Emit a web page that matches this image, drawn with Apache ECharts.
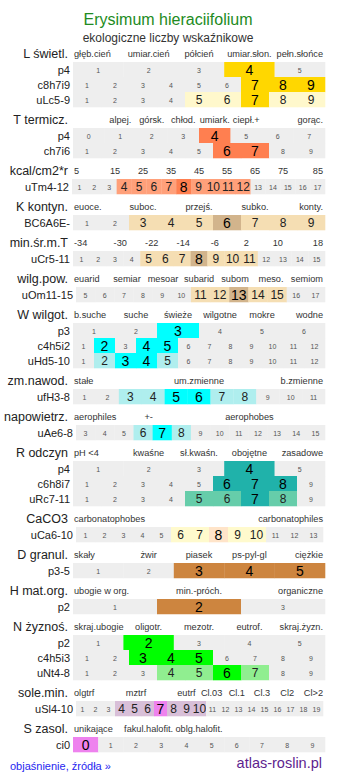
<!DOCTYPE html>
<html><head><meta charset="utf-8">
<script src="https://cdn.jsdelivr.net/npm/echarts@6/dist/echarts.min.js"></script>
<style>html,body{margin:0;padding:0;background:#fff}#c{width:337px;height:781px}</style>
</head><body><div id="c"></div><script>
// ---- texts ----
const chartTitle = 'Erysimum hieraciifolium';
const chartSubtitle = 'ekologiczne liczby wskaźnikowe';
const footerLeft = 'objaśnienie, źródła »';
const footerRight = 'atlas-roslin.pl';

const groupTitles = ['L świetl.','T termicz.','kcal/cm2*r','K kontyn.','min.śr.m.T','wilg.pow.','W wilgot.','zm.nawod.','napowietrz.','R odczyn','CaCO3','D granul.','H mat.org.','N żyznoś.','sole.min.','S zasol.'];

// ---- header tick labels ----
const hdrL = ['głęb.cień','umiar.cień','półcień','umiar.słon.','pełn.słońce'];
const hdrT = ['','alpej.','górsk.','chłod.','umiark.','ciepł.+','','gorąc.'];
const hdrKcal = ['5','15','25','35','45','55','65','75','85'];
const hdrK = ['euoce.','','suboc.','','przejś.','','subko.','','konty.'];
const hdrMinT = ['-34','-30','-22','-14','-6','2','10','18'];
const hdrWilgPow = ['euarid','semiar','mesoar','subarid','subom','meso.','semiom'];
const hdrW = ['b.suche','suche','świeże','wilgotne','mokre','wodne'];
const hdrZm = ['stałe','um.zmienne','b.zmienne'];
const hdrNapow = ['aerophiles','+-','','aerophobes',''];
const hdrR = ['pH <4','kwaśne','sł.kwaśn.','obojętne','zasadowe'];
const hdrCa = ['carbonatophobes','carbonatophiles'];
const hdrD = ['skały','żwir','piasek','ps-pyl-gl','ciężkie'];
const hdrH = ['ubogie w org.','min.-próch.','organiczne'];
const hdrN = ['skraj.ubogie','oligotr.','mezotr.','eutrof.','skraj.żyzn.'];
const hdrSole = ['olgtrf','','mztrf','','eutrf','Cl.03','Cl.1','Cl.3','Cl2','Cl>2'];
const hdrS = ['unikające','fakul.halofit.','oblg.halofit.','',''];

// ---- rows: names, cell values, levels (0 none, 1 secondary, 2 main) ----
const rowsL = ['p4','c8h7i9','uLc5-9'];
const cellsL = [[1,2,3,4,5],[1,2,3,4,5,6,7,8,9],[1,2,3,4,5,6,7,8,9]];
const levelsL = [[0,0,0,2,0],[0,0,0,0,0,0,2,2,2],[0,0,0,0,1,1,2,1,1]];

const rowsT = ['p4','ch7i6'];
const cellsT = [[0,1,2,3,4,5,6,7],[1,2,3,4,5,6,7,8,9]];
const levelsT = [[0,0,0,0,2,0,0,0],[0,0,0,0,0,2,2,0,0]];

const rowsKcal = ['uTm4-12'];
const cellsKcal = [[1,2,3,4,5,6,7,8,9,10,11,12,13,14,15,16,17]];
const levelsKcal = [[0,0,0,1,1,1,1,2,1,1,1,1,0,0,0,0,0]];

const rowsK = ['BC6A6E-'];
const cellsK = [[1,2,3,4,5,6,7,8,9]];
const levelsK = [[0,0,1,1,1,2,1,1,1]];

const rowsMinT = ['uCr5-11'];
const cellsMinT = [[1,2,3,4,5,6,7,8,9,10,11,12,13,14,15]];
const levelsMinT = [[0,0,0,0,1,1,1,2,1,1,1,0,0,0,0]];

const rowsWilgPow = ['uOm11-15'];
const cellsWilgPow = [[5,6,7,8,9,10,11,12,13,14,15,16,17]];
const levelsWilgPow = [[0,0,0,0,0,0,1,1,2,1,1,0,0]];

const rowsW = ['p3','c4h5i2','uHd5-10'];
const cellsW = [[1,2,3,4,5,6],[1,2,3,4,5,6,7,8,9,10,11,12],[1,2,3,4,5,6,7,8,9,10,11,12]];
const levelsW = [[0,0,2,0,0,0],[0,2,0,2,2,0,0,0,0,0,0,0],[0,1,2,2,1,0,0,0,0,0,0,0]];

const rowsZm = ['ufH3-8'];
const cellsZm = [[1,2,3,4,5,6,7,8,9,10,11]];
const levelsZm = [[0,0,1,1,2,2,1,1,0,0,0]];

const rowsNapow = ['uAe6-8'];
const cellsNapow = [[3,4,5,6,7,8,9,10,11,12,13,14,15]];
const levelsNapow = [[0,0,0,1,2,1,0,0,0,0,0,0,0]];

const rowsR = ['p4','c6h8i7','uRc7-11'];
const cellsR = [[1,2,3,4,5],[1,2,3,4,5,6,7,8,9],[1,2,3,4,5,6,7,8,9]];
const levelsR = [[0,0,0,2,0],[0,0,0,0,0,2,2,2,0],[0,0,0,0,1,1,2,1,0]];

const rowsCa = ['uCa6-10'];
const cellsCa = [[1,2,3,4,5,6,7,8,9,10,11,12,13]];
const levelsCa = [[0,0,0,0,0,1,1,2,1,1,0,0,0]];

const rowsD = ['p3-5'];
const cellsD = [[1,2,3,4,5]];
const levelsD = [[0,0,2,2,2]];

const rowsH = ['p2'];
const cellsH = [[1,2,3]];
const levelsH = [[0,2,0]];

const rowsN = ['p2','c4h5i3','uNt4-8'];
const cellsN = [[1,2,3,4,5],[1,2,3,4,5,6,7,8,9],[1,2,3,4,5,6,7,8,9]];
const levelsN = [[0,2,0,0,0],[0,0,2,2,2,0,0,0,0],[0,0,0,1,1,2,1,0,0]];

const rowsSole = ['uSl4-10'];
const cellsSole = [[1,2,3,4,5,6,7,8,9,10,11,12,13,14,15,16,17,18,19]];
const levelsSole = [[0,0,0,1,1,1,2,1,1,1,0,0,0,0,0,0,0,0,0]];

const rowsS = ['ci0'];
const cellsS = [[0,1,2,3,4,5,6,7,8,9]];
const levelsS = [[2,0,0,0,0,0,0,0,0,0]];

// ---- styling ----
const mainColors  = ['#FFD700','#FF7F50','#FF7F50','#D2B48C','#D2B48C','#D2B48C','#00FFFF','#00FFFF','#00FFFF','#20B2AA','#FFE4C9','#CD853F','#CD853F','#00FF00','#EE82EE','#EE82EE'];
const lightColors = ['#FFF8CC','#FFA07A','#FFA07A','#F5DEB3','#F5DEB3','#F5DEB3','#AFEEEE','#AFEEEE','#AFEEEE','#66CDAA','#FFFACD','#CD853F','#CD853F','#90EE90','#D8BFD8','#D8BFD8'];
const greyColor = '#EEEEEE';
const FONT = '"Liberation Sans", Arial, sans-serif';

const headers = [hdrL,hdrT,hdrKcal,hdrK,hdrMinT,hdrWilgPow,hdrW,hdrZm,hdrNapow,hdrR,hdrCa,hdrD,hdrH,hdrN,hdrSole,hdrS];
const rowNames = [rowsL,rowsT,rowsKcal,rowsK,rowsMinT,rowsWilgPow,rowsW,rowsZm,rowsNapow,rowsR,rowsCa,rowsD,rowsH,rowsN,rowsSole,rowsS];
const cellSets = [cellsL,cellsT,cellsKcal,cellsK,cellsMinT,cellsWilgPow,cellsW,cellsZm,cellsNapow,cellsR,cellsCa,cellsD,cellsH,cellsN,cellsSole,cellsS];
const levelSets = [levelsL,levelsT,levelsKcal,levelsK,levelsMinT,levelsWilgPow,levelsW,levelsZm,levelsNapow,levelsR,levelsCa,levelsD,levelsH,levelsN,levelsSole,levelsS];

// layout
const ROW_H = 15, GAP = 21, FIRST_TOP = 62;
const gridLeft  = [73,73,72,73,73,76,73,73,76,73,76,73,73,73,76,73];
const gridRight = [12,12,12,12,12,12,12,12,12,12,14,12,12,12,14,12];
const HDR_L = 73, HDR_R = 325;

const grids = [], xAxes = [], yAxes = [], series = [], graphics = [];
let curTop = FIRST_TOP;
headers.forEach((hdr, g) => {
  const nRows = rowNames[g].length;
  grids.push({left: gridLeft[g], right: gridRight[g], top: curTop, height: nRows * ROW_H});
  xAxes.push({gridIndex: g, type: 'value', min: 0, max: 1, show: false});
  yAxes.push({gridIndex: g, type: 'category', data: rowNames[g], inverse: true,
    axisLine: {show: false}, axisTick: {show: false}, splitLine: {show: false},
    axisLabel: {margin: 3, fontSize: 11, color: '#222', fontFamily: FONT}});
  const data = [];
  cellSets[g].forEach((cells, r) => {
    const n = cells.length;
    cells.forEach((v, i) => data.push([i / n, r, (i + 1) / n, v, levelSets[g][r][i]]));
  });
  const mc = mainColors[g], lc = lightColors[g];
  series.push({
    type: 'custom', xAxisIndex: g, yAxisIndex: g, data: data,
    dimensions: ['x0','row','x1','val','lvl'],
    encode: {x: [0, 2], y: 1},
    silent: true, animation: false,
    renderItem: function (params, api) {
      const p0 = api.coord([api.value(0), api.value(1)]);
      const p1 = api.coord([api.value(2), api.value(1)]);
      const h = api.size([0, 1])[1];
      const lv = api.value(4);
      const fill = lv === 2 ? mc : (lv === 1 ? lc : greyColor);
      const fs = lv === 2 ? 14 : (lv === 1 ? 12 : 7);
      const tc = lv === 2 ? '#000' : (lv === 1 ? '#222' : '#555');
      return {type: 'group', children: [
        {type: 'rect', shape: {x: p0[0], y: p0[1] - h / 2, width: p1[0] - p0[0] + 0.3, height: h + 0.3}, style: {fill: fill}},
        {type: 'text', style: {text: String(api.value(3)), x: (p0[0] + p1[0]) / 2, y: p0[1] + 0.5,
          align: 'center', verticalAlign: 'middle', fontSize: fs, fill: tc, fontFamily: FONT}}
      ]};
    }
  });
  // group title
  const hy = curTop - 8.5;
  graphics.push({type: 'text', x: 68, y: hy, style: {text: groupTitles[g], align: 'right', verticalAlign: 'middle', fontSize: 12.5, fill: '#222', fontFamily: FONT}});
  // header tick labels
  const m = hdr.length, w = (HDR_R - HDR_L) / m;
  hdr.forEach((t, k) => {
    if (!t) return;
    let x = HDR_L + (k + 0.5) * w, al = 'center';
    if (k === 0) { x = HDR_L + 1; al = 'left'; }
    else if (k === m - 1) { x = HDR_R - 2; al = 'right'; }
    graphics.push({type: 'text', x: x, y: hy + 0.5, style: {text: t, align: al, verticalAlign: 'middle', fontSize: 9.2, fill: '#333', fontFamily: FONT}});
  });
  curTop += nRows * ROW_H + GAP;
});

graphics.push({type: 'text', x: 168, y: 19, style: {text: chartTitle, align: 'center', verticalAlign: 'middle', fontSize: 16, fill: '#228B22', fontFamily: FONT}});
graphics.push({type: 'text', x: 168, y: 38, style: {text: chartSubtitle, align: 'center', verticalAlign: 'middle', fontSize: 12, fill: '#333', fontFamily: FONT}});
graphics.push({type: 'text', x: 10, y: 766, style: {text: footerLeft, align: 'left', verticalAlign: 'middle', fontSize: 11, fill: '#2626F0', fontFamily: FONT}});
graphics.push({type: 'text', x: 322, y: 763, style: {text: footerRight, align: 'right', verticalAlign: 'middle', fontSize: 14.5, fill: '#5E1E8E', fontFamily: FONT}});

const chart = echarts.init(document.getElementById('c'), null, {renderer: 'svg'});
chart.setOption({
  animation: false,
  backgroundColor: '#fff',
  grid: grids, xAxis: xAxes, yAxis: yAxes, series: series, graphic: graphics
});
</script></body></html>
